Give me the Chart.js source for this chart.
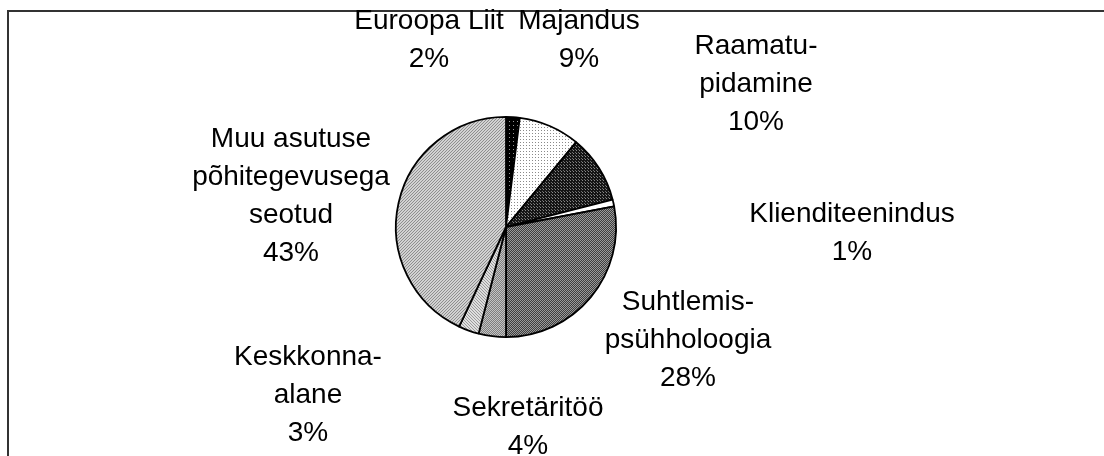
<!DOCTYPE html>
<html>
<head>
<meta charset="utf-8">
<script src="https://cdn.jsdelivr.net/npm/chart.js@4/dist/chart.umd.min.js"></script>
<style>
  html, body { margin: 0; padding: 0; background: #ffffff; }
  #wrap { width: 1104px; height: 456px; position: relative; }
</style>
</head>
<body>
<div id="wrap"><canvas id="c" width="1104" height="456"></canvas></div>
<script>
// ---- data ----
const categories = [
  ["Euroopa Liit"],
  ["Majandus"],
  ["Raamatu-", "pidamine"],
  ["Klienditeenindus"],
  ["Suhtlemis-", "psühholoogia"],
  ["Sekretäritöö"],
  ["Keskkonna-", "alane"],
  ["Muu asutuse", "põhitegevusega", "seotud"]
];
const shares = [2, 9, 10, 1, 28, 4, 3, 43];

// ---- patterns (styles) ----
function makePattern(size, bg, dots) {
  const t = document.createElement('canvas');
  t.width = size; t.height = size;
  const g = t.getContext('2d');
  g.fillStyle = bg; g.fillRect(0, 0, size, size);
  dots.forEach(d => { g.fillStyle = d[2]; g.fillRect(d[0], d[1], 1, 1); });
  return document.getElementById('c').getContext('2d').createPattern(t, 'repeat');
}
const fills = [
  makePattern(4, '#000000', [[1, 1, '#9a9a9a']]),
  makePattern(3, '#ffffff', [[1, 1, '#8a8a8a']]),
  makePattern(3, '#151515', [[0, 0, '#8a8a8a'], [2, 2, '#6a6a6a']]),
  '#ffffff',
  makePattern(2, '#3e3e3e', [[0, 0, '#9a9a9a'], [1, 1, '#9a9a9a']]),
  makePattern(2, '#7e7e7e', [[0, 0, '#c4c4c4'], [1, 1, '#c4c4c4']]),
  makePattern(3, '#dedede', [[0, 0, '#9a9a9a'], [1, 1, '#9a9a9a'], [2, 2, '#9a9a9a']]),
  makePattern(3, '#d2d2d2', [[2, 0, '#8e8e8e'], [1, 1, '#8e8e8e'], [0, 2, '#8e8e8e']])
];

// label placement relative to pie centre (first line centre), layout only
const labelOffsets = [
  [-77, -206], [73, -206], [250, -181], [346, -13],
  [182, 75], [22, 181], [-198, 130], [-215, -88]
];
const lineHeight = 38;

const framePlugin = {
  id: 'frame',
  beforeDraw(chart) {
    const ctx = chart.ctx;
    ctx.save();
    ctx.fillStyle = '#ffffff';
    ctx.fillRect(0, 0, chart.width, chart.height);
    ctx.strokeStyle = '#333333';
    ctx.lineWidth = 2;
    ctx.strokeRect(8, 11, 1110, 470);
    ctx.restore();
  }
};

const labelPlugin = {
  id: 'pieLabels',
  afterDatasetsDraw(chart) {
    const ctx = chart.ctx;
    const meta = chart.getDatasetMeta(0);
    const data = chart.data.datasets[0].data;
    const total = data.reduce((a, b) => a + b, 0);
    ctx.save();
    ctx.font = '28px "Liberation Sans", Arial, sans-serif';
    ctx.fillStyle = '#000000';
    ctx.textAlign = 'center';
    ctx.textBaseline = 'middle';
    meta.data.forEach((arc, i) => {
      const lines = categories[i].concat([Math.round(data[i] / total * 100) + '%']);
      const x = arc.x + labelOffsets[i][0];
      const y = arc.y + labelOffsets[i][1];
      lines.forEach((ln, k) => ctx.fillText(ln, x, y + k * lineHeight));
    });
    ctx.restore();
  }
};

new Chart(document.getElementById('c'), {
  type: 'pie',
  data: {
    labels: categories.map(c => c.join(' ')),
    datasets: [{
      data: shares,
      backgroundColor: fills,
      borderColor: '#000000',
      borderWidth: 1.8
    }]
  },
  options: {
    responsive: false,
    animation: false,
    layout: { padding: { left: 395, right: 487, top: 116, bottom: 118 } },
    plugins: {
      legend: { display: false },
      tooltip: { enabled: false }
    }
  },
  plugins: [framePlugin, labelPlugin]
});
</script>
</body>
</html>
